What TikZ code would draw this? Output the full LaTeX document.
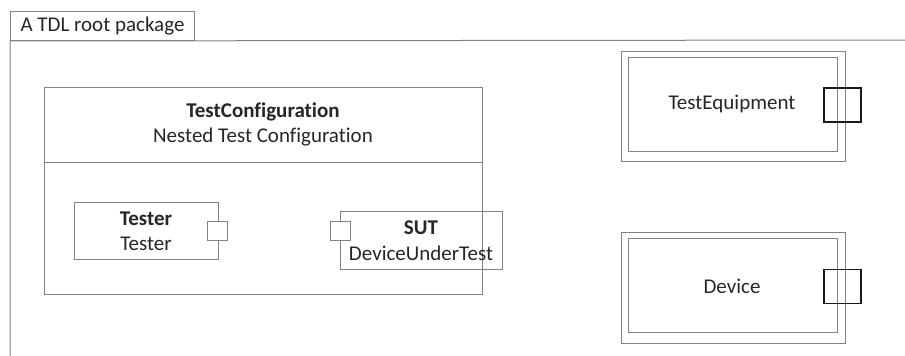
\documentclass[tikz,border=0pt]{standalone}
\usepackage{fontspec}
\setmainfont{Carlito}[Ligatures=NoCommon]
\usepackage{tikz}
\usetikzlibrary{positioning}
\definecolor{framegray}{RGB}{130,130,130}
\tikzset{
  frame/.style={draw=framegray, line width=1pt, inner sep=0pt},
  lbl/.style={font=\fontsize{21}{25}\selectfont, text=black!85, inner sep=0pt},
  bold/.style={lbl, font=\fontsize{21}{25}\selectfont\bfseries},
  smallport/.style={frame, fill=white, minimum width=20pt, minimum height=19pt},
  bigport/.style={draw=black!90, line width=1.6pt, minimum width=37pt, minimum height=34pt, inner sep=0pt}
}

\begin{document}
\begin{tikzpicture}[x=1pt,y=-1pt]
      \useasboundingbox (0,0) rectangle (905,356);
      \node[frame, lbl, draw=framegray, anchor=north west, minimum width=184pt, minimum height=29pt] (tab) at (10,11) {A TDL root package};
      \coordinate (pkgbottom) at (10,360);
      \coordinate (pkgright) at (910,40);
      \draw[frame] (pkgbottom) -- (tab.south west) -- (pkgright);

      \node[frame, minimum width=438pt, minimum height=207pt] (config) at (263,190.5) {};
      \draw[frame] (config.west |- 0,162) -- (config.east |- 0,162);
      \node[bold] (configname) at (263,112) {TestConfiguration};
      \node[lbl] (configtype) at (263,137) {Nested Test Configuration};

      \node[frame, minimum width=144pt, minimum height=57pt] (tester) at (146,230.5) {};
      \node[smallport] (testerport) at (217,230.5) {};
      \node[bold] (testername) at (146,219) {Tester};
      \node[lbl] (testertype) at (146,244) {Tester};

      \node[frame, minimum width=162pt, minimum height=58pt] (sut) at (421,240) {};
      \node[smallport] (sutport) at (340,230.5) {};
      \node[bold] (sutname) at (421,228) {SUT};
      \node[lbl] (suttype) at (421,253) {DeviceUnderTest};

      \node[frame, minimum width=224pt, minimum height=110pt] (equipouter) at (733,106) {};
      \node[frame, minimum width=209pt, minimum height=94pt] (equipinner) at (732.5,104) {};
      \node[bigport] (equipport) at (842.5,105) {};
      \node[lbl] (equipname) at (732,104) {TestEquipment};

      \node[frame, minimum width=224pt, minimum height=111pt] (deviceouter) at (733,287.5) {};
      \node[frame, minimum width=209pt, minimum height=94pt] (deviceinner) at (732.5,285) {};
      \node[bigport] (deviceport) at (842.5,286.5) {};
      \node[lbl] (devicename) at (732,286) {Device};
\end{tikzpicture}
\end{document}
